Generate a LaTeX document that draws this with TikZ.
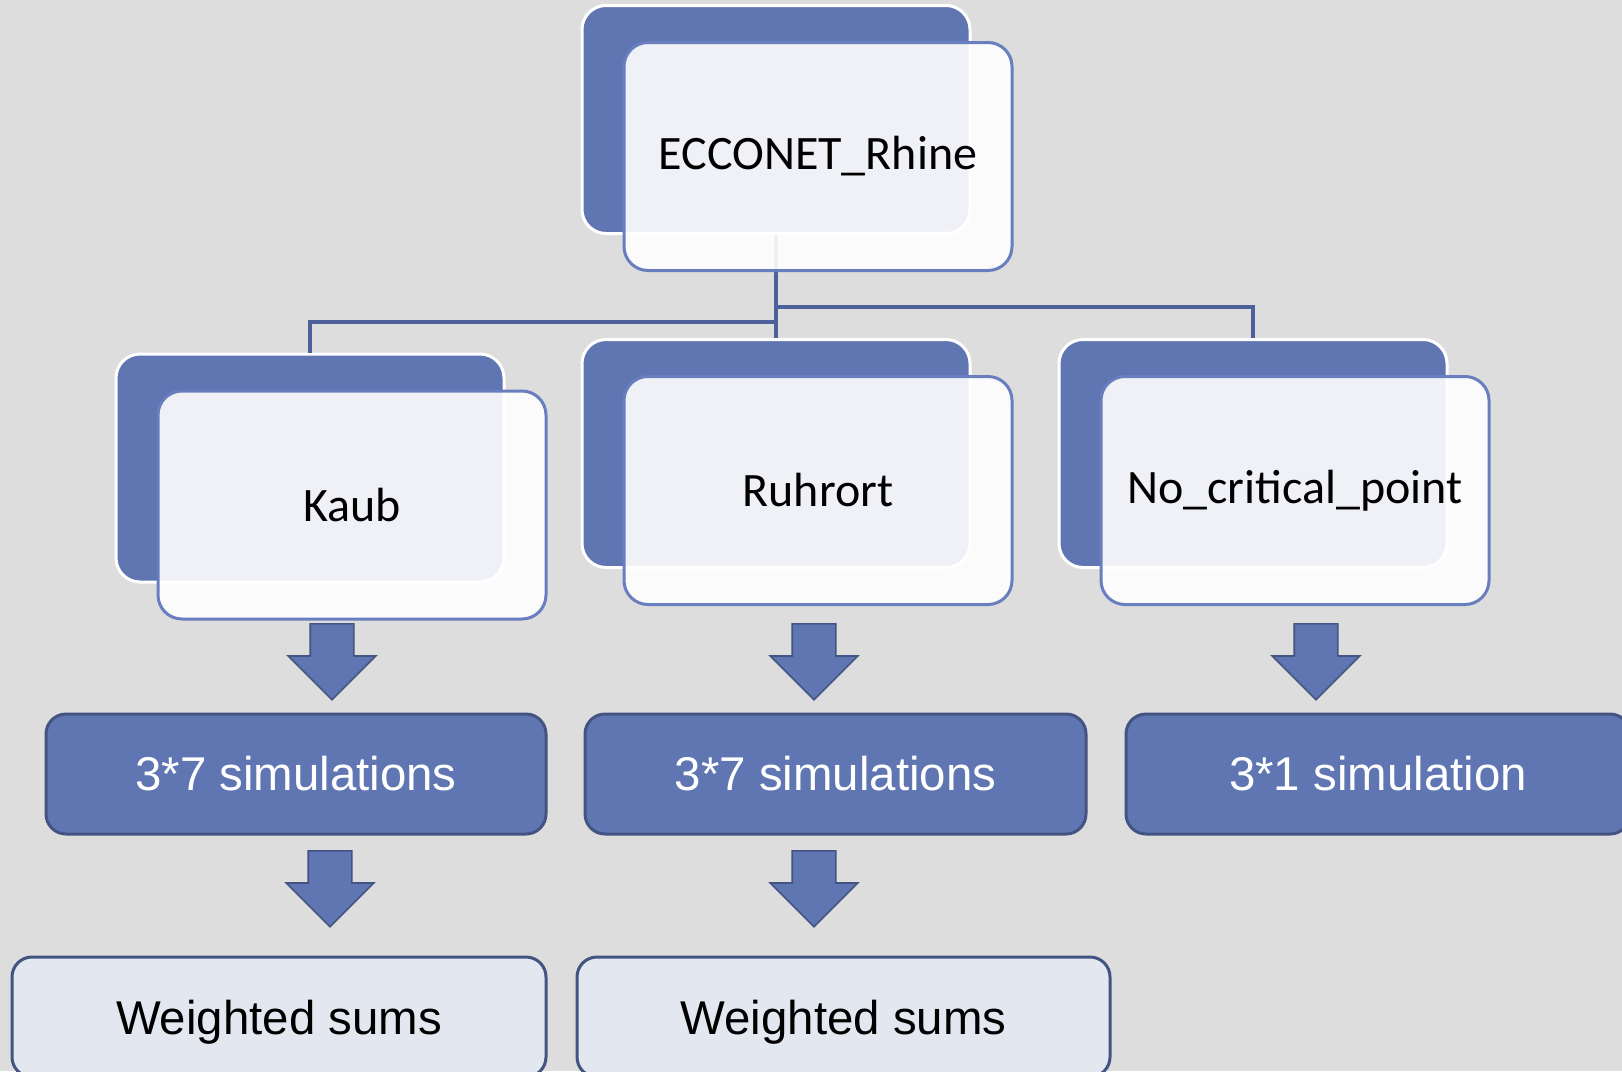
\documentclass[tikz,border=0pt]{standalone}
\usepackage{fontspec}
\setmainfont{Liberation Sans}
\newfontfamily\calib{Carlito}
\usetikzlibrary{shapes,arrows,positioning}

\definecolor{bggray}{RGB}{221,221,221}
\definecolor{boxblue}{RGB}{96,118,179}
\definecolor{edgeblue}{RGB}{104,126,190}
\definecolor{navy}{RGB}{68,84,130}
\definecolor{linkblue}{RGB}{78,96,156}
\definecolor{paleblue}{RGB}{227,232,240}

\begin{document}
\begin{tikzpicture}[x=0.5pt,y=0.5pt]
    \tikzstyle{every node}+=[inner sep=0pt]
    \tikzstyle{backbox}=[draw=white, line width=1.5pt, fill=boxblue, rounded corners=12pt, minimum width=194pt, minimum height=114pt]
    \tikzstyle{frontbox}=[draw=edgeblue, line width=1.5pt, fill=white, fill opacity=0.9, text opacity=1, rounded corners=12pt, minimum width=194pt, minimum height=114pt, font=\calib\fontsize{24}{28}\selectfont, anchor=north west]
    \tikzstyle{simbox}=[draw=navy, line width=1.5pt, fill=boxblue, rounded corners=10pt, minimum height=60pt, text=white, font=\fontsize{23.7}{28}\selectfont]
    \tikzstyle{sumbox}=[simbox, fill=paleblue, text=black, text depth=0pt]
    \tikzstyle{downarrow}=[single arrow, draw=navy, line width=0.8pt, fill=boxblue, rotate=-90, text height=21pt, text depth=0pt, minimum height=38pt, minimum width=43pt, single arrow head extend=11pt, anchor=tail]
    \tikzstyle{link}=[draw=linkblue, line width=1.7pt]
    \useasboundingbox (0,0) rectangle (1622,-1071);
    \clip (0,0) rectangle (1622,-1071);
    \fill[bggray] (0,0) rectangle (1622,-1071);
    \node[backbox] (topback) at (776,-119.5) {};
    \node[backbox] (kaubback) at (310,-468) {};
    \node[backbox] (ruhrback) at (776,-453.5) {};
    \node[backbox] (nocritback) at (1253,-453.5) {};
    \draw[link] (topback.south) -- (ruhrback.north);
    \draw[link] (topback.south) ++(0,-87) -| (kaubback.north);
    \draw[link] (topback.south) ++(0,-72) -| (nocritback.north);
    \node[frontbox] (top) at ([xshift=21pt,yshift=-18.5pt]topback.north west) {ECCONET\_Rhine};
    \node[frontbox] (kaub) at ([xshift=21pt,yshift=-18.5pt]kaubback.north west) {Kaub};
    \node[frontbox] (ruhr) at ([xshift=21pt,yshift=-18.5pt]ruhrback.north west) {Ruhrort};
    \node[frontbox] (nocrit) at ([xshift=21pt,yshift=-18.5pt]nocritback.north west) {No\_critical\_point};
    \node[downarrow] (kaubarr) at (332,-623) {};
    \node[downarrow] (ruhrarr) at (814,-623) {};
    \node[downarrow] (nocritarr) at (1316,-623) {};
    \node[simbox, minimum width=250pt] (kaubsim) at (296,-774) {3*7 simulations};
    \node[simbox, minimum width=250.5pt] (ruhrsim) at (835.5,-774) {3*7 simulations};
    \node[simbox, minimum width=252pt] (nocritsim) at (1378,-774) {3*1 simulation};
    \node[downarrow] (kaubarrb) at (330,-850) {};
    \node[downarrow] (ruhrarrb) at (814,-850) {};
    \node[sumbox, minimum width=267pt] (kaubsum) at (279,-1017) {Weighted sums};
    \node[sumbox, minimum width=266.5pt] (ruhrsum) at (843.5,-1017) {Weighted sums};
\end{tikzpicture}
\end{document}
